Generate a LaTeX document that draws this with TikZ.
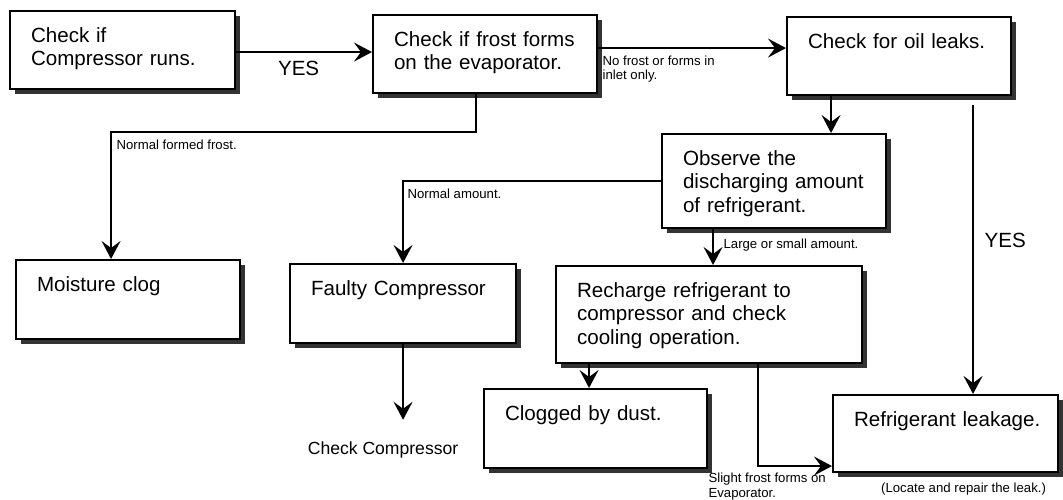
\documentclass[tikz,border=0pt]{standalone}
\usepackage{fontspec}
\setmainfont{Liberation Sans}
\usepackage{tikz}
\usetikzlibrary{arrows.meta,positioning,calc,shadows}
\newcommand{\boxfont}{\fontsize{11.7}{13.6}\selectfont}
\newcommand{\notefont}{\fontsize{7.5}{8.4}\selectfont}
\newcommand{\midfont}{\fontsize{10}{12}\selectfont}

\begin{document}
\begin{tikzpicture}[
  stepbox/.style={draw, line width=1.2pt, fill=white,
    drop shadow={shadow xshift=0.09cm, shadow yshift=-0.09cm, fill=black!80, opacity=1},
    anchor=north west, align=left, inner xsep=0.42cm, inner ysep=0.32cm,
    text height=0.3cm, font=\boxfont},
  flow/.style={line width=0.9pt, -{Stealth[length=0.36cm, width=0.38cm, inset=0.14cm]}},
  cond/.style={font=\notefont, align=left, inner sep=1pt},
  yes/.style={font=\boxfont, inner sep=1pt}
]
\useasboundingbox (0,0) rectangle (21.26,-10);

\node[stepbox, text width=3.66cm, text depth=0.62cm] (runs) at (0.18,-0.20) {Check if\\Compressor runs.};
\node[stepbox, text width=3.64cm, text depth=0.62cm] (frost) at (7.44,-0.28) {Check if frost forms\\on the evaporator.};
\node[stepbox, text width=3.64cm, text depth=0.62cm] (oil) at (15.72,-0.32) {Check for oil leaks.};
\node[stepbox, text width=3.64cm, text depth=0.94cm] (obs) at (13.22,-2.66) {Observe the\\discharging amount\\of refrigerant.};
\node[stepbox, text width=3.64cm, text depth=0.64cm] (moist) at (0.30,-5.18) {Moisture clog};
\node[stepbox, text width=3.68cm, text depth=0.64cm] (fault) at (5.78,-5.26) {Faulty Compressor};
\node[stepbox, text width=5.28cm, text depth=1.00cm] (rech) at (11.10,-5.30) {Recharge refrigerant to\\compressor and check\\cooling operation.};
\node[stepbox, text width=3.62cm, text depth=0.64cm] (dust) at (9.66,-7.76) {Clogged by dust.};
\node[stepbox, text width=3.66cm, text depth=0.60cm] (leak) at (16.64,-7.88) {\mbox{Refrigerant leakage.}};

\node[font=\midfont, inner sep=1pt] (chkcomp) at ([xshift=-0.4cm, yshift=-2.12cm]fault.south) {Check Compressor};
\node[cond] (fixnote) at ([xshift=0.36cm, yshift=-0.32cm]leak.south) {(Locate and repair the leak.)};

\draw[flow] ([yshift=-0.04cm]runs.east) -- node[yes, below=0.14cm, pos=0.46] {YES} ([yshift=-0.04cm]runs.east -| frost.west);
\draw[flow] ([yshift=0.12cm]frost.east) -- node[cond, pos=0, anchor=north west, xshift=0.04cm, yshift=-0.1cm] {No frost or forms in\\inlet only.} ([yshift=0.12cm]frost.east -| oil.west);
\draw[flow] ([xshift=-0.18cm]frost.south) -- ++(0,-0.76) -| node[cond, pos=0.5, anchor=north west, xshift=0.06cm, yshift=-0.1cm] {Normal formed frost.} ([xshift=-0.34cm]moist.north);
\draw[flow] ([xshift=-1.36cm]oil.south) -- ([xshift=-1.36cm]oil.south |- obs.north);
\draw[flow] (obs.west) -| node[cond, pos=0.5, anchor=north west, xshift=0.04cm, yshift=-0.1cm] {Normal amount.} (fault.north);
\draw[flow] ([xshift=-1.22cm]obs.south) -- node[cond, pos=0.45, right, xshift=0.16cm] {Large or small amount.} ([xshift=-1.22cm]obs.south |- rech.north);
\draw[flow] ([xshift=1.48cm, yshift=-0.18cm]oil.south) -- node[yes, pos=0.47, right, xshift=0.18cm] {YES} ([xshift=1.48cm]oil.south |- leak.north);
\draw[flow, shorten >=0.4cm] (fault.south) -- (fault.south |- chkcomp.north);
\draw[flow] ([xshift=-0.13cm]dust.north |- rech.south) -- ([xshift=-0.13cm]dust.north);
\draw[flow] ([xshift=0.98cm]rech.south) |- node[cond, pos=0.5, anchor=north west, xshift=-1.04cm, yshift=-0.09cm] {Slight frost forms on\\Evaporator.} ([yshift=-0.65cm]leak.west);
\end{tikzpicture}
\end{document}
